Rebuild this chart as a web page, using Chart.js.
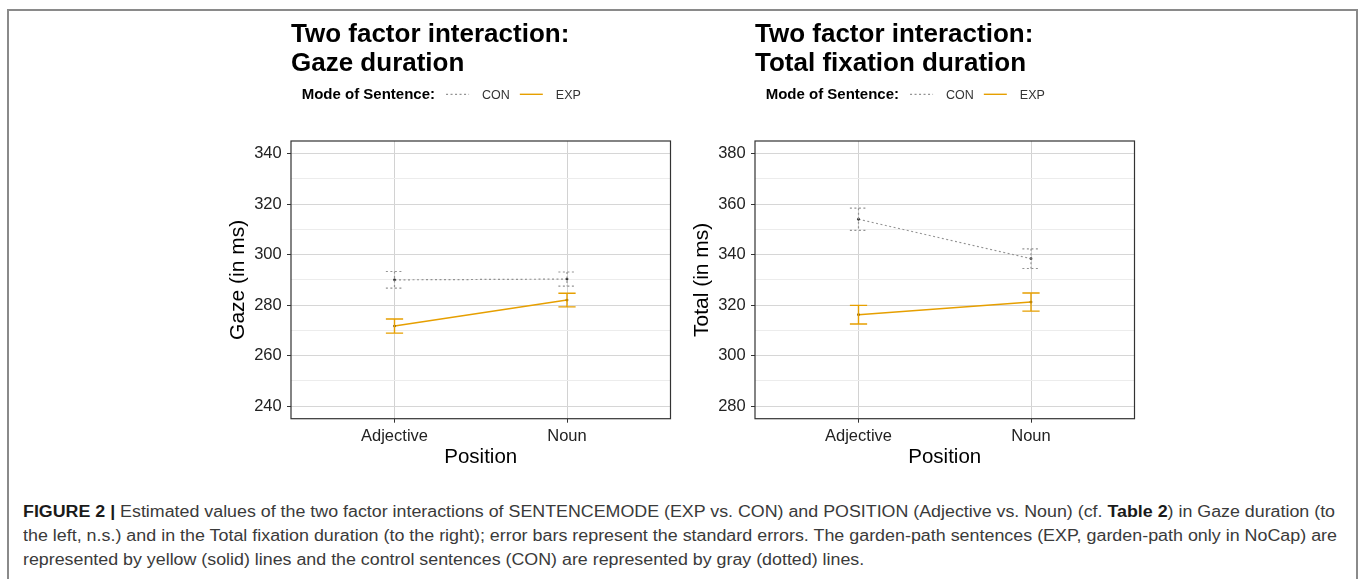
<!DOCTYPE html>
<html>
<head>
<meta charset="utf-8">
<script src="https://cdn.jsdelivr.net/npm/chart.js@4/dist/chart.umd.min.js"></script>
<style>
  html, body { margin: 0; padding: 0; background: #fff; }
  body { width: 1360px; height: 579px; position: relative; overflow: hidden; font-family: "Liberation Sans", Arial, sans-serif; }
  #frame { position: absolute; left: 7px; top: 9px; width: 1347px; height: 600px; border: 2px solid #8a8a8a; border-bottom: none; }
  canvas { position: absolute; top: 0; }
  #caption { position: absolute; left: 23px; top: 500px; font-size: 16px; line-height: 24px; color: #3a3a3a; }
  #caption .ln { white-space: nowrap; }
  #caption .ln span { display: inline-block; transform-origin: 0 0; }
  #caption b { color: #1a1a1a; }
</style>
</head>
<body>
<div id="frame"></div>
<canvas id="gazeChart" width="460" height="480" style="left:220px"></canvas>
<canvas id="totalChart" width="460" height="480" style="left:684px"></canvas>
<div id="caption">
  <div class="ln"><span><b>FIGURE 2 |</b> Estimated values of the two factor interactions of SENTENCEMODE (EXP vs. CON) and POSITION (Adjective vs. Noun) (cf. <b>Table 2</b>) in Gaze duration (to</span></div>
  <div class="ln"><span>the left, n.s.) and in the Total fixation duration (to the right); error bars represent the standard errors. The garden-path sentences (EXP, garden-path only in NoCap) are</span></div>
  <div class="ln"><span>represented by yellow (solid) lines and the control sentences (CON) are represented by gray (dotted) lines.</span></div>
</div>
<script>
// categories on the x axis
const categories = ['Adjective', 'Noun'];
const seriesNames = ['CON', 'EXP'];

// gaze duration (left panel): means and standard errors
const gazeCon = [290.0, 290.3];
const gazeConSe = [3.3, 2.8];
const gazeExp = [271.7, 282.0];
const gazeExpSe = [2.8, 2.7];

// total fixation duration (right panel)
const totalCon = [354.0, 338.4];
const totalConSe = [4.4, 3.9];
const totalExp = [316.2, 321.2];
const totalExpSe = [3.7, 3.6];

// tick labels
const gazeTicks = [240, 260, 280, 300, 320, 340];
const totalTicks = [280, 300, 320, 340, 360, 380];

const FONT = '"Liberation Sans", Arial, sans-serif';
const CON_COLOR = '#939393';
const EXP_COLOR = '#E69F00';
const CAP_WIDTH = 0.1;

// error bars drawn through the chart's own scales
const errorBars = {
    id: 'errorBars',
    afterDatasetsDraw(chart) {
        const ctx = chart.ctx;
        const x = chart.scales.x, y = chart.scales.y;
        chart.data.datasets.forEach(function(ds) {
            if (!ds.errors) return;
            ctx.save();
            ctx.strokeStyle = ds.borderColor;
            ctx.lineWidth = ds.borderWidth;
            ctx.setLineDash(ds.borderDash || []);
            ds.data.forEach(function(pt, j) {
                const px = x.getPixelForValue(pt.x);
                const hw = x.getPixelForValue(pt.x + CAP_WIDTH / 2) - px;
                const top = y.getPixelForValue(pt.y + ds.errors[j]);
                const bot = y.getPixelForValue(pt.y - ds.errors[j]);
                ctx.beginPath();
                ctx.moveTo(px, top); ctx.lineTo(px, bot);
                ctx.moveTo(px - hw, top); ctx.lineTo(px + hw, top);
                ctx.moveTo(px - hw, bot); ctx.lineTo(px + hw, bot);
                ctx.stroke();
            });
            ctx.restore();
        });
    }
};

// panel border on top of everything (theme_bw look)
const panelBorder = {
    id: 'panelBorder',
    afterDraw(chart) {
        const a = chart.chartArea, ctx = chart.ctx;
        ctx.save();
        ctx.strokeStyle = '#333';
        ctx.lineWidth = 1.2;
        ctx.strokeRect(a.left, a.top, a.right - a.left, a.bottom - a.top);
        ctx.restore();
    }
};

// horizontal ggplot-style legend: "Mode of Sentence:  ···· CON  —— EXP"
const modeLegend = {
    id: 'modeLegend',
    afterDraw(chart, args, opts) {
        const ctx = chart.ctx;
        const y = opts.y;
        let x = chart.chartArea.left + opts.offset;
        ctx.save();
        ctx.textBaseline = 'alphabetic';
        ctx.fillStyle = '#000';
        ctx.font = 'bold 15px ' + FONT;
        ctx.fillText(opts.title, x, y);
        x += ctx.measureText(opts.title).width + 11;
        chart.data.datasets.forEach(function(ds) {
            ctx.strokeStyle = ds.borderColor;
            ctx.lineWidth = ds.borderWidth;
            ctx.setLineDash(ds.borderDash || []);
            ctx.beginPath();
            ctx.moveTo(x, y - 5); ctx.lineTo(x + 23, y - 5);
            ctx.stroke();
            x += 23 + 13;
            ctx.font = '12.5px ' + FONT;
            ctx.fillStyle = '#333';
            ctx.fillText(ds.label, x, y);
            x += ctx.measureText(ds.label).width + 10;
        });
        ctx.restore();
    }
};

function makePanel(id, titleLines, yTitle, con, conSe, exp, expSe, ticks) {
    const minorTicks = [];
    for (let i = 0; i < ticks.length - 1; i++) minorTicks.push((ticks[i] + ticks[i + 1]) / 2);
    const allTicks = ticks.concat(minorTicks).sort(function(a, b) { return a - b; });
    const expand = (ticks[ticks.length - 1] - ticks[0]) * 0.05;

    new Chart(document.getElementById(id), {
        type: 'line',
        data: {
            datasets: [{
                label: seriesNames[0],
                data: con.map(function(v, i) { return {x: i + 1, y: v}; }),
                errors: conSe,
                borderColor: CON_COLOR,
                borderWidth: 1.2,
                borderDash: [2, 2.5],
                pointRadius: 1.4,
                pointBorderWidth: 0,
                pointBackgroundColor: '#333'
            }, {
                label: seriesNames[1],
                data: exp.map(function(v, i) { return {x: i + 1, y: v}; }),
                errors: expSe,
                borderColor: EXP_COLOR,
                borderWidth: 1.4,
                pointRadius: 1.4,
                pointBorderWidth: 0,
                pointBackgroundColor: '#7a5400'
            }]
        },
        options: {
            responsive: false,
            animation: false,
            devicePixelRatio: 1,
            layout: { padding: { left: 0, right: 9.5, top: 0, bottom: 0 } },
            scales: {
                x: {
                    type: 'linear',
                    min: 0.4,
                    max: 2.6,
                    afterBuildTicks: function(axis) {
                        axis.ticks = categories.map(function(c, i) { return {value: i + 1}; });
                    },
                    afterFit: function(axis) { axis.height = 61.3; },
                    ticks: {
                        callback: function(v) { return categories[v - 1]; },
                        color: '#222',
                        font: { family: FONT, size: 16.5 },
                        padding: 3.4,
                        maxRotation: 0
                    },
                    grid: { color: '#d2d2d2', tickColor: '#333', tickLength: 4 },
                    border: { display: false },
                    title: {
                        display: true,
                        text: 'Position',
                        color: '#000',
                        font: { family: FONT, size: 20.5 },
                        padding: { top: 0, bottom: 10.8 }
                    }
                },
                y: {
                    min: ticks[0] - expand,
                    max: ticks[ticks.length - 1] + expand,
                    afterBuildTicks: function(axis) {
                        axis.ticks = allTicks.map(function(v) { return {value: v}; });
                    },
                    afterFit: function(axis) { axis.width = 71; },
                    ticks: {
                        callback: function(v) { return ticks.indexOf(v) >= 0 ? String(v) : ''; },
                        color: '#222',
                        font: { family: FONT, size: 16.5 },
                        padding: 5.3
                    },
                    grid: {
                        color: function(c) { return ticks.indexOf(c.tick.value) >= 0 ? '#d6d6d6' : '#ececec'; },
                        tickColor: function(c) { return ticks.indexOf(c.tick.value) >= 0 ? '#333' : 'rgba(0,0,0,0)'; },
                        tickLength: 4
                    },
                    border: { display: false },
                    title: {
                        display: true,
                        text: yTitle,
                        color: '#000',
                        font: { family: FONT, size: 21 },
                        padding: { top: 5.7, bottom: 0 }
                    }
                }
            },
            plugins: {
                legend: { display: false },
                tooltip: { enabled: false },
                title: {
                    display: true,
                    text: titleLines,
                    align: 'start',
                    fullSize: false,
                    color: '#000',
                    font: { family: FONT, size: 26, weight: 'bold', lineHeight: 29 / 26 },
                    padding: { top: 20.8, bottom: 62.2 }
                },
                modeLegend: { title: 'Mode of Sentence:', offset: 10.7, y: 99.3 }
            }
        },
        plugins: [errorBars, panelBorder, modeLegend]
    });
}

makePanel('gazeChart', ['Two factor interaction:', 'Gaze duration'], 'Gaze (in ms)',
    gazeCon, gazeConSe, gazeExp, gazeExpSe, gazeTicks);
makePanel('totalChart', ['Two factor interaction:', 'Total fixation duration'], 'Total (in ms)',
    totalCon, totalConSe, totalExp, totalExpSe, totalTicks);

// fit the caption lines to the figure width
const lines = document.querySelectorAll('#caption .ln span');
const targets = [1312, 1314];
let firstScale = 1;
lines.forEach(function(s, i) {
    const w = s.getBoundingClientRect().width;
    let k = i < targets.length ? targets[i] / w : firstScale;
    if (i === 0) firstScale = k;
    s.style.transform = 'scaleX(' + k + ')';
});
</script>
</body>
</html>
